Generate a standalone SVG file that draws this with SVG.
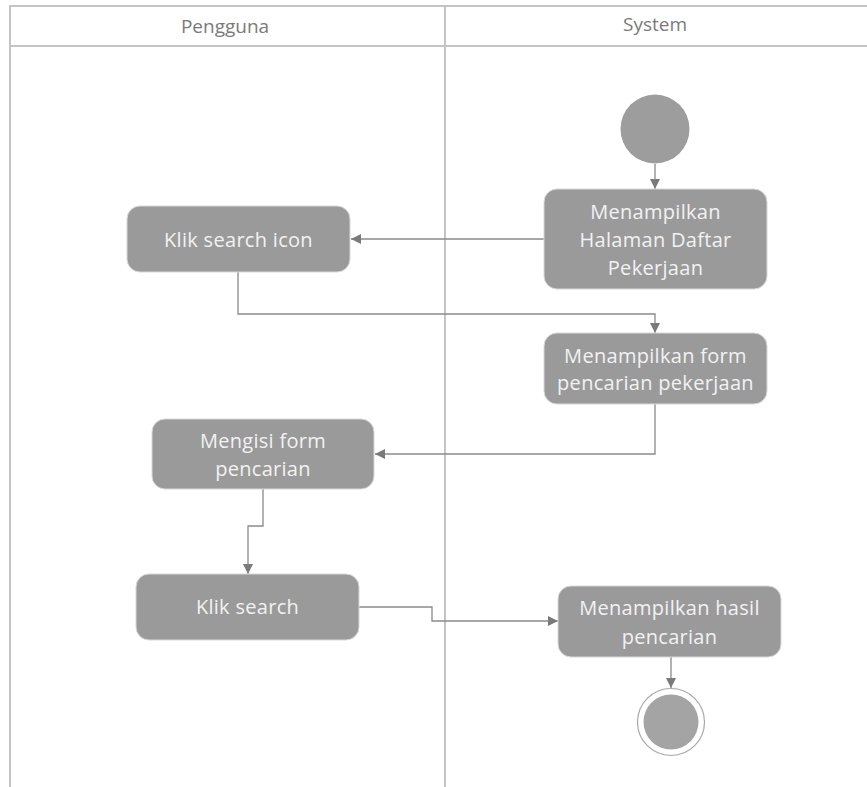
<svg xmlns="http://www.w3.org/2000/svg" width="867" height="787" viewBox="0 0 867 787">
  <style>
    .lane { stroke: #c4c4c4; stroke-width: 2; fill: none; }
    .hdr { font-family: "Open Sans", "Noto Sans", sans-serif; font-size: 19px; fill: #7a7a7a; text-anchor: middle; }
    .act { fill: #9a9a9a; stroke: #d8d8d8; stroke-width: 1; }
    .lbl { font-family: "Open Sans", "Noto Sans", sans-serif; font-size: 20px; letter-spacing: 0.3px; fill: #f2f2f2; text-anchor: middle; }
    .flow { stroke: #8a8a8a; stroke-width: 1.3; fill: none; marker-end: url(#arrow); }
  </style>
  <defs>
    <marker id="arrow" viewBox="0 0 10 10" refX="10" refY="5" markerWidth="10" markerHeight="10" markerUnits="userSpaceOnUse" orient="auto">
      <path d="M0,0 L10,5 L0,10 z" fill="#7a7a7a"/>
    </marker>
  </defs>
  <rect width="867" height="787" fill="#ffffff"/>

  <!-- swimlanes -->
  <g id="lanes">
    <line class="lane" x1="9" y1="6" x2="867" y2="6" stroke="#d4d4d4" stroke-width="3"/>
    <line class="lane" x1="10" y1="6" x2="10" y2="787"/>
    <line class="lane" x1="445" y1="6" x2="445" y2="787"/>
    <line class="lane" x1="10" y1="46" x2="867" y2="46"/>
    <text class="hdr" x="225" y="33">Pengguna</text>
    <text class="hdr" x="655" y="31">System</text>
  </g>

  <!-- connectors -->
  <g id="connectors">
    <path class="flow" d="M655,164 V189"/>
    <path class="flow" d="M544,239 H351"/>
    <path class="flow" d="M238,272 V314 H655 V333"/>
    <path class="flow" d="M655,404 V454 H375"/>
    <path class="flow" d="M263,489 V526 H248 V574"/>
    <path class="flow" d="M359,607 H432 V621 H558"/>
    <path class="flow" d="M671,657 V688"/>
  </g>

  <g id="start">
    <circle cx="655" cy="129" r="34.5" fill="#9d9d9d"/>
  </g>

  <g id="tampil-daftar">
    <rect class="act" x="544" y="189" width="223" height="100" rx="13"/>
    <text class="lbl" x="655.5" y="219">Menampilkan</text>
    <text class="lbl" x="655.5" y="247">Halaman Daftar</text>
    <text class="lbl" x="655.5" y="275">Pekerjaan</text>
  </g>

  <g id="klik-search-icon">
    <rect class="act" x="127" y="206" width="223" height="66" rx="13"/>
    <text class="lbl" x="238.5" y="247">Klik search icon</text>
  </g>

  <g id="tampil-form">
    <rect class="act" x="544" y="333" width="223" height="71" rx="13"/>
    <text class="lbl" x="655.5" y="363">Menampilkan form</text>
    <text class="lbl" x="655.5" y="390">pencarian pekerjaan</text>
  </g>

  <g id="isi-form">
    <rect class="act" x="152" y="419" width="222" height="70" rx="13"/>
    <text class="lbl" x="263" y="448">Mengisi form</text>
    <text class="lbl" x="263" y="476">pencarian</text>
  </g>

  <g id="klik-search">
    <rect class="act" x="136" y="574" width="223" height="66" rx="13"/>
    <text class="lbl" x="247.5" y="614">Klik search</text>
  </g>

  <g id="tampil-hasil">
    <rect class="act" x="558" y="586" width="223" height="71" rx="13"/>
    <text class="lbl" x="669.5" y="615">Menampilkan hasil</text>
    <text class="lbl" x="669.5" y="644">pencarian</text>
  </g>

  <g id="end">
    <circle cx="671" cy="722" r="33.5" fill="#ffffff" stroke="#a8a8a8" stroke-width="1.2"/>
    <circle cx="671" cy="722" r="27.5" fill="#a4a4a4"/>
  </g>
</svg>
